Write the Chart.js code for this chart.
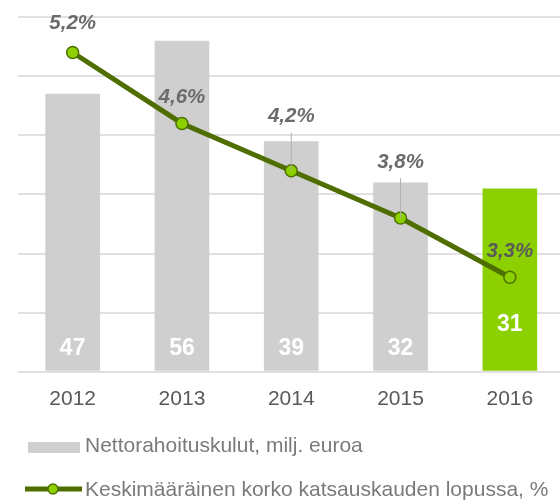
<!DOCTYPE html>
<html>
<head>
<meta charset="utf-8">
<script src="https://cdn.jsdelivr.net/npm/chart.js@4/dist/chart.umd.min.js"></script>
<style>
  html, body { margin: 0; padding: 0; background: #fff; overflow: hidden; }
  canvas { display: block; }
</style>
</head>
<body>
<canvas id="chart" width="572" height="501"></canvas>
<script>
var years = ["2012", "2013", "2014", "2015", "2016"];
var netCosts = [47, 56, 39, 32, 31];
var avgRate = [5.2, 4.6, 4.2, 3.8, 3.3];
var costLabel = "Nettorahoituskulut, milj. euroa";
var rateLabel = "Keskimääräinen korko katsauskauden lopussa, %";

var grey = "#cfcfcf";
var lime = "#8cd000";
var olive = "#4e6f00";
var font = "'Liberation Sans', Arial, sans-serif";

// label nudges (pixels), style only
var rateLift = [18, 15, 43, 45, 15];
var costLift = [0, 0, 0, 0, 24];

var labelsPlugin = {
    id: "labels",
    afterDatasetsDraw: function (chart) {
        var ctx = chart.ctx;
        var bars = chart.getDatasetMeta(1).data;
        var points = chart.getDatasetMeta(0).data;
        var base = chart.scales.y.getPixelForValue(0);
        ctx.save();
        ctx.textAlign = "center";
        ctx.textBaseline = "middle";

        ctx.font = "bold 23px " + font;
        ctx.fillStyle = "#fff";
        bars.forEach(function (bar, i) {
            ctx.fillText(String(netCosts[i]), bar.x, base - 23 - costLift[i]);
        });

        ctx.font = "italic bold 20.5px " + font;
        points.forEach(function (pt, i) {
            var ly = pt.y - 11 - rateLift[i];
            if (rateLift[i] > 30) {
                ctx.strokeStyle = "#b0b0b0";
                ctx.lineWidth = 1;
                ctx.beginPath();
                ctx.moveTo(pt.x, ly + 16);
                ctx.lineTo(pt.x, pt.y);
                ctx.stroke();
            }
            ctx.fillStyle = i === points.length - 1 ? "#5a5a5a" : "#6b6b6b";
            ctx.fillText(avgRate[i].toFixed(1).replace(".", ",") + "%", pt.x, ly);
        });
        ctx.restore();
    },
    afterDraw: function (chart) {
        var ctx = chart.ctx;
        ctx.save();
        ctx.font = "21px " + font;
        ctx.textBaseline = "middle";
        ctx.textAlign = "left";

        ctx.fillStyle = grey;
        ctx.fillRect(28, 442, 52, 11);
        ctx.fillStyle = "#7a7a7a";
        ctx.fillText(costLabel, 85, 446);

        ctx.strokeStyle = olive;
        ctx.lineWidth = 5;
        ctx.beginPath();
        ctx.moveTo(25, 489);
        ctx.lineTo(82, 489);
        ctx.stroke();
        ctx.beginPath();
        ctx.arc(53, 489, 5, 0, Math.PI * 2);
        ctx.fillStyle = lime;
        ctx.fill();
        ctx.lineWidth = 1.5;
        ctx.stroke();
        ctx.fillStyle = "#7a7a7a";
        ctx.fillText(rateLabel, 85, 490);
        ctx.restore();
    }
};

new Chart(document.getElementById("chart").getContext("2d"), {
    data: {
        labels: years,
        datasets: [
            {
                type: "line",
                label: rateLabel,
                data: avgRate,
                yAxisID: "y1",
                borderColor: olive,
                borderWidth: 5,
                pointRadius: 6,
                pointBorderWidth: 1.5,
                pointBackgroundColor: lime,
                pointBorderColor: olive,
                tension: 0,
                order: 0
            },
            {
                type: "bar",
                label: costLabel,
                data: netCosts,
                yAxisID: "y",
                backgroundColor: netCosts.map(function (v, i) {
                    return i === netCosts.length - 1 ? lime : grey;
                }),
                barPercentage: 0.5,
                categoryPercentage: 1,
                order: 1
            }
        ]
    },
    options: {
        responsive: false,
        animation: false,
        layout: { padding: { left: 18, top: 17, right: 0, bottom: 74 } },
        plugins: {
            legend: { display: false },
            tooltip: { enabled: false }
        },
        scales: {
            x: {
                grid: { display: false, drawTicks: false },
                border: { display: false },
                ticks: { color: "#595959", font: { family: font, size: 21 }, padding: 15, maxRotation: 0 }
            },
            y: {
                min: 0,
                max: 60,
                ticks: { display: false, stepSize: 10 },
                border: { display: false },
                grid: { color: "#e0e0e0", lineWidth: 2, drawTicks: false }
            },
            y1: {
                display: false,
                min: 2.5,
                max: 5.5
            }
        }
    },
    plugins: [labelsPlugin]
});
</script>
</body>
</html>
